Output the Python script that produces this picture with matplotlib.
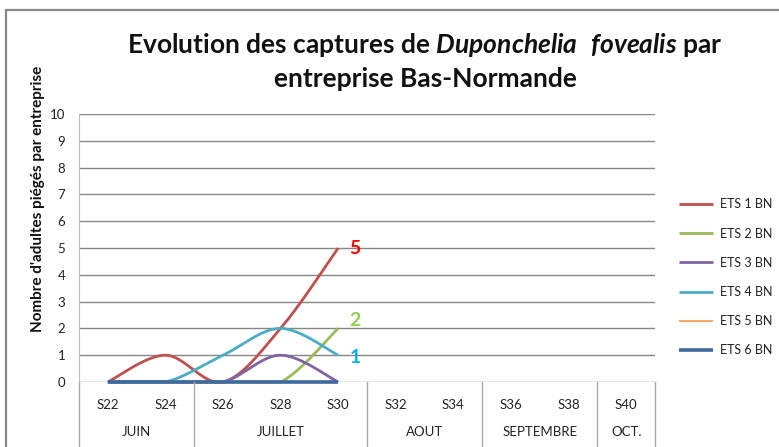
import numpy as np
import matplotlib.pyplot as plt
from matplotlib.patches import Rectangle
import matplotlib.transforms as mtransforms

plt.rcParams['font.family'] = ['Lato', 'DejaVu Sans']
plt.rcParams['mathtext.fontset'] = 'custom'
plt.rcParams['mathtext.it'] = 'Lato:italic:bold'
plt.rcParams['mathtext.rm'] = 'Lato:bold'

# data
weeks = ["S22", "S24", "S26", "S28", "S30", "S32", "S34", "S36", "S38", "S40"]
months = ["JUIN", "JUILLET", "AOUT", "SEPTEMBRE", "OCT."]
month_sizes = [2, 3, 2, 2, 1]
series_names = ["ETS 1 BN", "ETS 2 BN", "ETS 3 BN", "ETS 4 BN", "ETS 5 BN", "ETS 6 BN"]
ets1 = [0, 1, 0, 2, 5]
ets2 = [0, 0, 0, 0, 2]
ets3 = [0, 0, 0, 1, 0]
ets4 = [0, 0, 1, 2, 1]
ets5 = [0, 0, 0, 0, 0]
ets6 = [0, 0, 0, 0, 0]
last_labels = ["5", "2", "1"]

colors = ["#C0504D", "#9BBB59", "#8064A2", "#4BACC6", "#F79646", "#3D69A0"]
widths = [2.0, 2.0, 2.0, 2.0, 1.2, 2.6]


def smooth(y, n=40):
    # Excel style smoothing (Catmull-Rom as cubic Bezier)
    y = np.asarray(y, dtype=float)
    x = np.arange(len(y), dtype=float)
    px = np.concatenate([[x[0]], x, [x[-1]]])
    py = np.concatenate([[y[0]], y, [y[-1]]])
    xs, ys = [], []
    t = np.linspace(0, 1, n)
    for i in range(1, len(px) - 2):
        b0x, b0y = px[i], py[i]
        b3x, b3y = px[i + 1], py[i + 1]
        b1x = px[i] + (px[i + 1] - px[i - 1]) / 6
        b1y = py[i] + (py[i + 1] - py[i - 1]) / 6
        b2x = px[i + 1] - (px[i + 2] - px[i]) / 6
        b2y = py[i + 1] - (py[i + 2] - py[i]) / 6
        xs.append((1-t)**3*b0x + 3*(1-t)**2*t*b1x + 3*(1-t)*t**2*b2x + t**3*b3x)
        ys.append((1-t)**3*b0y + 3*(1-t)**2*t*b1y + 3*(1-t)*t**2*b2y + t**3*b3y)
    return np.concatenate(xs), np.concatenate(ys)


fig = plt.figure(figsize=(7.79, 4.47), dpi=100)
ax = fig.add_axes([79/779, 1-382/447, (655-79)/779, (382-114)/447])

all_series = [ets1, ets2, ets3, ets4, ets5, ets6]
for vals, name, c, lw in zip(all_series, series_names, colors, widths):
    sx, sy = smooth(vals)
    ax.plot(sx, np.clip(sy, 0, None), color=c, lw=lw, clip_on=False,
            solid_capstyle='butt', label=name)

ax.set_xlim(-0.5, len(weeks) - 0.5)
ax.set_ylim(0, 10)
ax.set_yticks(range(0, 11))
ax.tick_params(axis='y', length=0, labelsize=9.5, colors='#222222', pad=10)
ax.set_xticks([])
for s in ['top', 'right', 'bottom']:
    ax.spines[s].set_visible(False)
ax.spines['left'].set_color('#BBBBBB')
ax.grid(axis='y', color='#868686', lw=1)
ax.set_axisbelow(True)

# category labels
tr = mtransforms.blended_transform_factory(ax.transData, ax.transAxes)
for i, w in enumerate(weeks):
    ax.text(i, -23/268, w, transform=tr, ha='center', va='center', fontsize=9.5, color='#222222')
start = 0
bounds = [-0.5]
for m, n in zip(months, month_sizes):
    ax.text(start + (n - 1) / 2, -50/268, m, transform=tr, ha='center', va='center', fontsize=9.5, color='#222222')
    start += n
    bounds.append(start - 0.5)
for b in bounds:
    ax.plot([b, b], [0, -0.3], transform=tr, color='#AAAAAA', lw=1, clip_on=False)

# labels at last point
lbl_colors = ["#FF0000", "#92D050", "#00B0F0"]
lbl_offsets = [(8, 0), (8, 6), (8, -2)]
for vals, txt, c, off in zip([ets1, ets2, ets4], last_labels, lbl_colors, lbl_offsets):
    ax.annotate(txt, xy=(len(vals) - 1, vals[-1]), xytext=off, textcoords='offset points',
                ha='left', va='center', fontsize=14, fontweight='bold', color=c)

fig.text(38/779, 1-199/447, "Nombre d'adultes piégés par entreprise", rotation=90,
         ha='center', va='center', fontsize=11, fontweight='bold', color='#111111')

fig.text(425/779, 1-45/447, r"Evolution des captures de $Duponchelia\ \ fovealis$ par",
         ha='center', va='center', fontsize=19, fontweight='bold', color='#111111')
fig.text(425/779, 1-79/447, "entreprise Bas-Normande",
         ha='center', va='center', fontsize=19, fontweight='bold', color='#111111')

fig.legend(loc='upper left', bbox_to_anchor=(668/779, 1-187/447), frameon=False,
           fontsize=9, handlelength=2.7, handletextpad=0.55, labelspacing=1.38,
           labelcolor='#222222')

fig.patches.append(Rectangle((6/779, -0.1), 1.1, 1.1 - 10/447, transform=fig.transFigure,
                             fill=False, edgecolor='#888888', lw=1.6))

fig.savefig("out.png", dpi=100)
